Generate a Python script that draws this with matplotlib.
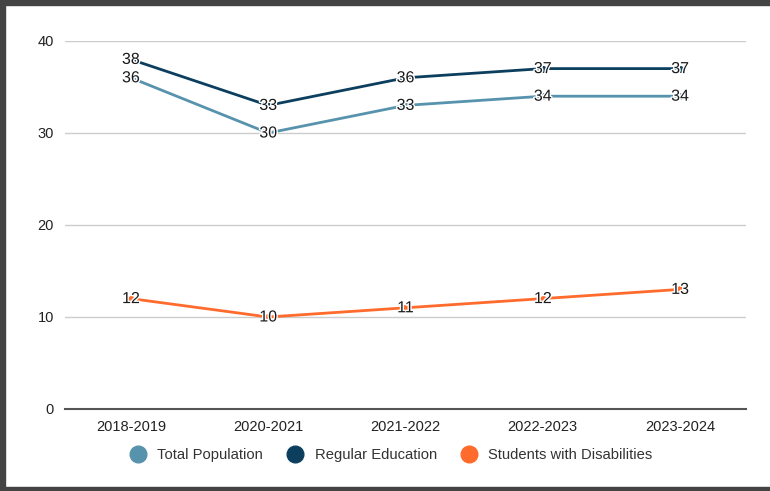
import matplotlib
matplotlib.use("Agg")
import matplotlib.pyplot as plt
import matplotlib.patheffects as pe
from matplotlib.lines import Line2D

plt.rcParams['font.family'] = ['Liberation Sans', 'DejaVu Sans']

years = ['2018-2019', '2020-2021', '2021-2022', '2022-2023', '2023-2024']
total_pop = [36, 30, 33, 34, 34]
regular_ed = [38, 33, 36, 37, 37]
swd = [12, 10, 11, 12, 13]

series = [
    ('Total Population', total_pop, '#5893ad'),
    ('Regular Education', regular_ed, '#0c3f5e'),
    ('Students with Disabilities', swd, '#ff6b2c'),
]

fig = plt.figure(figsize=(7.7, 4.91), dpi=100)
ax = fig.add_axes([65 / 770, (491 - 409) / 491, (746 - 65) / 770, (409 - 41) / 491])

x = list(range(len(years)))
for name, vals, col in series:
    ax.plot(x, vals, color=col, lw=2, marker='o', ms=4, zorder=3)
    for xi, v in zip(x, vals):
        ax.text(xi, v, str(v), ha='center', va='center', fontsize=11.5, color='#1a1a1a', zorder=4,
                path_effects=[pe.withStroke(linewidth=2, foreground='white')])

ax.set_xlim(-0.48, 4.48)
ax.set_ylim(0, 40)
ax.set_yticks([0, 10, 20, 30, 40])
ax.set_xticks(x)
ax.set_xticklabels(years)
ax.grid(axis='y', color='#cccccc', lw=1)
ax.set_axisbelow(True)
for s in ['top', 'right', 'left']:
    ax.spines[s].set_visible(False)
ax.spines['bottom'].set_color('#555555')
ax.spines['bottom'].set_linewidth(1.5)
ax.tick_params(axis='both', length=0, labelsize=10.5, colors='#222222', pad=8)

handles = [Line2D([], [], ls='', marker='o', ms=12, color=c) for _, _, c in series]
fig.legend(handles, [n for n, _, _ in series], loc='center', bbox_to_anchor=(388 / 770, 1 - 455 / 491),
           ncol=3, frameon=False, fontsize=10.6, handletextpad=0.3, columnspacing=1.2,
           labelcolor='#333333')

# dark frame on left, top and bottom
frame = '#444444'
fig.add_artist(plt.Rectangle((0, 0), 5 / 770, 1, transform=fig.transFigure, color=frame))
fig.add_artist(plt.Rectangle((0, 1 - 5 / 491), 1, 5 / 491, transform=fig.transFigure, color=frame))
fig.add_artist(plt.Rectangle((0, 0), 1, 4 / 491, transform=fig.transFigure, color=frame))

fig.savefig('out.png', dpi=100)
